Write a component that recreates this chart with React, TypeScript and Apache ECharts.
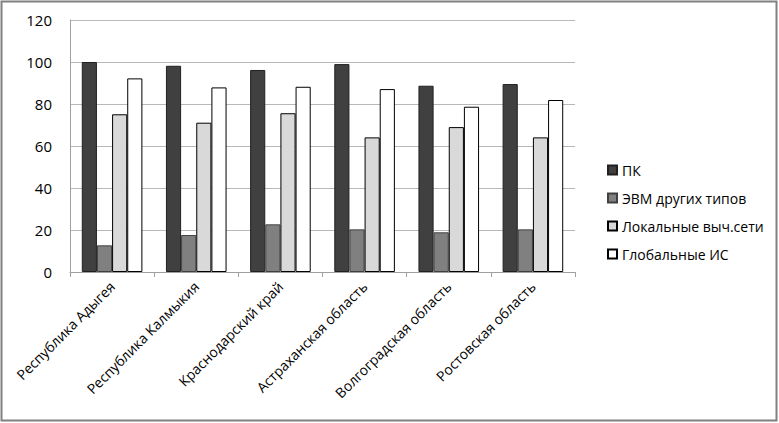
import React, { useEffect, useRef } from "react";
import * as echarts from "echarts";

const categories = [
  "Республика Адыгея",
  "Республика Калмыкия",
  "Краснодарский край",
  "Астраханская область",
  "Волгоградская область",
  "Ростовская область",
];
const seriesNames = ["ПК", "ЭВМ других типов", "Локальные выч.сети", "Глобальные ИС"];
const pk = [100, 98.2, 96.2, 99, 88.7, 89.5];
const evm = [12.7, 17.6, 22.7, 20.3, 18.9, 20.3];
const local = [75.1, 71.1, 75.6, 64.1, 69, 64.1];
const global = [92.2, 87.9, 88.2, 87.1, 78.7, 81.9];
const yTicks = { min: 0, max: 120, interval: 20 };

const colors = ["#404040", "#808080", "#d9d9d9", "#ffffff"];
const borders = ["#202020", "#404040", "#000000", "#000000"];

export default function App() {
  const ref = useRef<HTMLDivElement>(null);
  useEffect(() => {
    if (!ref.current) return;
    const chart = echarts.init(ref.current, null, { renderer: "svg" });
    const values = [pk, evm, local, global];
    const font = "Open Sans";
    chart.setOption({
      animation: false,
      backgroundColor: "#ffffff",
      textStyle: { fontFamily: font },
      graphic: [
        {
          type: "rect",
          shape: { x: 1.5, y: 1.5, width: 775, height: 419 },
          style: { fill: "none", stroke: "#808080", lineWidth: 2 },
          silent: true,
        },
      ],
      grid: { left: 70, right: 204, top: 20, bottom: 151, containLabel: false },
      legend: {
        orient: "vertical",
        left: 602,
        top: 158,
        itemWidth: 9,
        itemHeight: 9,
        itemGap: 14,
        icon: "rect",
        textStyle: { fontFamily: font, fontSize: 14, color: "#000" },
        data: seriesNames,
      },
      xAxis: {
        type: "category",
        data: categories,
        axisLine: { show: true, lineStyle: { color: "#a0a0a0", width: 1 } },
        axisTick: { show: true, length: 5, lineStyle: { color: "#a0a0a0" } },
        axisLabel: {
          rotate: 45,
          interval: 0,
          fontFamily: font,
          fontSize: 14,
          color: "#000",
          margin: 12,
        },
      },
      yAxis: {
        type: "value",
        min: yTicks.min,
        max: yTicks.max,
        interval: yTicks.interval,
        axisLine: { show: true, lineStyle: { color: "#a0a0a0", width: 1 } },
        axisTick: { show: false },
        splitLine: { show: true, lineStyle: { color: "#b8b8b8", width: 1 } },
        axisLabel: { fontFamily: font, fontSize: 15, color: "#000", margin: 18 },
      },
      series: seriesNames.map((name, i) => ({
        name,
        type: "bar",
        data: values[i],
        barGap: "0%",
        barCategoryGap: "28%",
        itemStyle: { color: colors[i], borderColor: borders[i], borderWidth: 1 },
      })),
    });
    return () => chart.dispose();
  }, []);
  return (
    <div
      ref={ref}
      style={{ position: "fixed", left: 0, top: 0, width: 779, height: 423 }}
    />
  );
}
